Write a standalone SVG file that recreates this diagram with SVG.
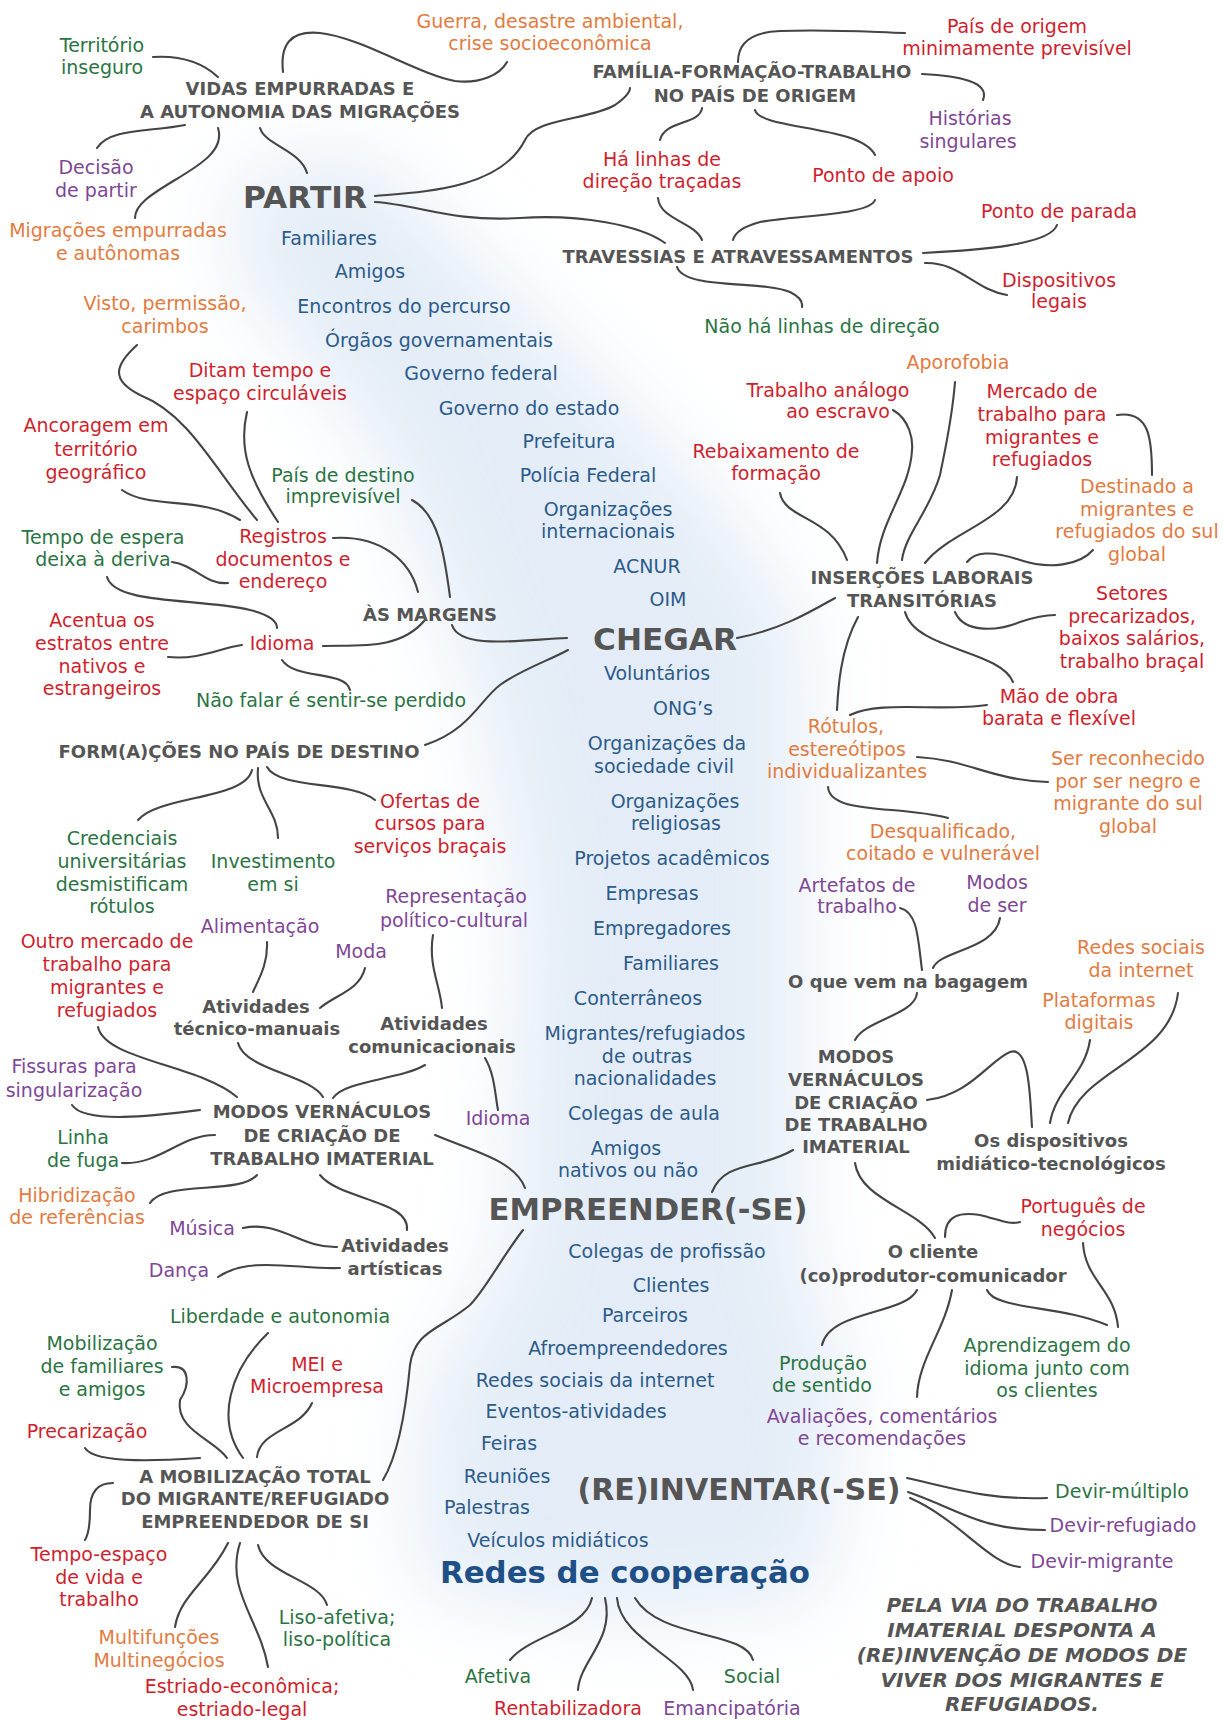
<svg xmlns="http://www.w3.org/2000/svg" width="1223" height="1720" viewBox="0 0 1223 1720">
<style>
text{font-family:"DejaVu Sans","Liberation Sans",sans-serif;text-anchor:middle}
.t{font-size:19px}
.h{font-size:18px;font-weight:bold;fill:#555}
.big{font-size:31px;font-weight:bold;fill:#555}
.b{fill:#2c5b8a}.g{fill:#2b7444}.r{fill:#cf1f2e}.o{fill:#e27b3f}.p{fill:#7f4796}
.rb{font-size:31px;font-weight:bold;fill:#1e4f86}
.it{font-size:20px;font-weight:bold;font-style:italic;fill:#555}
#links path{fill:none;stroke:#444;stroke-width:2.1;stroke-linecap:round}
</style>
<defs>
<filter id="blur" x="-50%" y="-50%" width="200%" height="200%"><feGaussianBlur stdDeviation="40"/></filter>
</defs>
<rect width="1223" height="1720" fill="#fff"/>
<path d="M230,180 L360,150 L520,300 L700,480 L800,620 L800,1250 L850,1400 L820,1600 L620,1620 L420,1590 L420,1400 L510,1250 L520,900 L480,700 L380,450 L240,280 Z" fill="#e4edf7" filter="url(#blur)"/>
<g id="links">
<path d="M153,57 C185,55 205,65 218,77"/>
<path d="M283,72 C280,45 290,30 320,33 C360,37 420,75 455,81 C480,84 500,75 507,62"/>
<path d="M185,125 C150,132 110,128 97,148"/>
<path d="M218,128 C225,150 200,165 175,180 C150,195 135,205 135,218"/>
<path d="M260,128 C265,145 300,150 307,173"/>
<path d="M375,196 C420,192 500,190 525,140 C535,118 590,120 615,105 C625,98 630,92 630,88"/>
<path d="M375,202 C420,205 450,222 520,218 C580,214 640,225 665,243"/>
<path d="M702,108 C700,125 665,120 660,140"/>
<path d="M755,110 C760,130 860,125 875,155"/>
<path d="M738,62 C738,40 755,32 780,31 C830,29 870,32 905,33"/>
<path d="M922,74 C960,76 990,82 983,100"/>
<path d="M658,198 C660,220 695,222 702,240"/>
<path d="M875,200 C870,215 800,215 760,222 C745,226 735,232 733,240"/>
<path d="M677,267 C685,290 760,280 790,292 C800,297 803,302 802,307"/>
<path d="M923,253 C980,250 1050,245 1057,225"/>
<path d="M925,263 C960,262 975,290 1007,295"/>
<path d="M137,345 C115,365 110,380 140,395 C190,415 215,470 257,520"/>
<path d="M247,412 C238,450 250,480 278,522"/>
<path d="M122,490 C150,510 200,495 240,520"/>
<path d="M333,538 C380,535 410,560 418,592"/>
<path d="M412,500 C440,515 445,560 450,597"/>
<path d="M172,562 C195,565 205,585 228,583"/>
<path d="M107,577 C115,605 200,598 250,610 C270,615 277,622 277,628"/>
<path d="M168,657 C200,660 220,648 242,645"/>
<path d="M323,646 C360,645 400,650 425,620"/>
<path d="M282,660 C295,680 345,670 350,690"/>
<path d="M452,625 C460,650 520,640 567,638"/>
<path d="M425,745 C470,730 480,700 500,685 C520,670 550,660 568,650"/>
<path d="M737,638 C780,630 810,612 835,598"/>
<path d="M252,770 C245,800 160,795 138,820"/>
<path d="M258,768 C255,800 278,810 278,838"/>
<path d="M267,767 C280,790 350,780 375,800"/>
<path d="M893,410 C910,420 913,440 912,450 C910,490 880,520 877,563"/>
<path d="M955,382 C952,420 945,450 940,475 C930,510 905,535 902,560"/>
<path d="M1017,477 C1015,520 950,530 925,563"/>
<path d="M780,493 C785,520 830,515 847,560"/>
<path d="M1117,415 C1150,410 1152,440 1152,475"/>
<path d="M967,562 C975,552 990,550 1020,560 C1050,570 1080,565 1093,550"/>
<path d="M955,612 C965,635 1000,630 1020,622 C1035,617 1045,615 1055,615"/>
<path d="M905,612 C915,650 1000,650 1013,682"/>
<path d="M858,617 C840,650 838,690 837,710"/>
<path d="M987,705 C940,712 880,700 850,715"/>
<path d="M917,757 C970,760 990,780 1048,782"/>
<path d="M828,787 C830,815 900,805 948,818"/>
<path d="M900,908 C918,912 918,940 922,970"/>
<path d="M1000,918 C995,950 940,950 933,968"/>
<path d="M917,993 C915,1015 865,1020 855,1040"/>
<path d="M927,1100 C970,1095 990,1060 1010,1052 C1030,1045 1030,1100 1032,1127"/>
<path d="M1090,1040 C1085,1075 1055,1090 1050,1123"/>
<path d="M1178,993 C1170,1060 1080,1070 1068,1123"/>
<path d="M793,1150 C760,1170 725,1160 712,1192"/>
<path d="M855,1163 C860,1200 920,1210 935,1238"/>
<path d="M945,1237 C945,1215 960,1212 980,1215 C1000,1220 1010,1225 1020,1222"/>
<path d="M1083,1243 C1085,1280 1115,1290 1118,1327"/>
<path d="M987,1290 C995,1310 1060,1305 1107,1325"/>
<path d="M917,1290 C905,1315 830,1310 822,1345"/>
<path d="M952,1290 C945,1330 918,1360 917,1397"/>
<path d="M907,1478 C960,1490 990,1500 1047,1498"/>
<path d="M908,1492 C960,1510 980,1530 1045,1530"/>
<path d="M910,1498 C960,1520 990,1565 1020,1567"/>
<path d="M267,942 C268,965 258,980 253,992"/>
<path d="M365,968 C360,990 335,995 320,1008"/>
<path d="M433,935 C428,965 440,985 442,1008"/>
<path d="M485,1058 C495,1075 495,1095 498,1110"/>
<path d="M425,1065 C400,1080 345,1080 333,1098"/>
<path d="M238,1043 C245,1070 310,1075 323,1097"/>
<path d="M98,1027 C105,1060 200,1065 237,1097"/>
<path d="M72,1105 C85,1125 160,1115 200,1110"/>
<path d="M122,1163 C160,1165 180,1135 215,1135"/>
<path d="M257,1175 C240,1195 165,1180 150,1203"/>
<path d="M320,1175 C340,1200 410,1200 407,1230"/>
<path d="M435,1135 C470,1150 515,1160 525,1188"/>
<path d="M243,1228 C280,1220 300,1248 337,1247"/>
<path d="M218,1277 C250,1255 300,1270 340,1268"/>
<path d="M523,1230 C500,1260 485,1290 470,1305 C440,1330 415,1330 410,1365 C405,1420 395,1460 383,1480"/>
<path d="M268,1333 C230,1370 215,1420 243,1458"/>
<path d="M312,1403 C300,1430 260,1430 257,1457"/>
<path d="M172,1367 C190,1365 190,1385 180,1400 C175,1430 215,1440 227,1458"/>
<path d="M85,1448 C95,1465 170,1460 200,1458"/>
<path d="M113,1483 C95,1483 90,1495 90,1510 C90,1525 88,1535 85,1540"/>
<path d="M228,1543 C210,1580 180,1595 175,1627"/>
<path d="M240,1543 C225,1590 260,1620 268,1667"/>
<path d="M258,1545 C265,1575 320,1580 327,1605"/>
<path d="M592,1598 C585,1630 530,1635 510,1660"/>
<path d="M605,1598 C615,1640 580,1660 578,1690"/>
<path d="M617,1598 C620,1640 690,1660 693,1690"/>
<path d="M635,1598 C660,1640 745,1630 753,1660"/>
</g>
<g id="n-territorio"><text class="t g"><tspan x="102" y="52">Território</tspan><tspan x="102" y="74">inseguro</tspan></text></g>
<g id="n-vidas"><text class="h"><tspan x="300" y="95">VIDAS EMPURRADAS E</tspan><tspan x="300" y="118">A AUTONOMIA DAS MIGRAÇÕES</tspan></text></g>
<g id="n-guerra"><text class="t o"><tspan x="550" y="28">Guerra,  desastre ambiental,</tspan><tspan x="550" y="50">crise socioeconômica</tspan></text></g>
<g id="n-familia"><text class="h"><tspan x="752" y="78">FAMÍLIA-FORMAÇÃO-TRABALHO</tspan><tspan x="755" y="102">NO PAÍS DE ORIGEM</tspan></text></g>
<g id="n-paisorigem"><text class="t r"><tspan x="1017" y="33">País de origem</tspan><tspan x="1017" y="55">minimamente previsível</tspan></text></g>
<g id="n-historias"><text class="t p"><tspan x="970" y="125">Histórias</tspan><tspan x="968" y="148">singulares</tspan></text></g>
<g id="n-decisao"><text class="t p"><tspan x="96" y="174">Decisão</tspan><tspan x="96" y="197">de partir</tspan></text></g>
<g id="n-partir"><text class="big" x="305" y="208" textLength="124" lengthAdjust="spacingAndGlyphs">PARTIR</text></g>
<g id="n-halinhas"><text class="t r"><tspan x="662" y="166">Há linhas de</tspan><tspan x="662" y="188">direção traçadas</tspan></text></g>
<g id="n-pontoapoio"><text class="t r" x="883" y="182">Ponto de apoio</text></g>
<g id="n-migracoes"><text class="t o"><tspan x="118" y="237">Migrações empurradas</tspan><tspan x="118" y="260">e autônomas</tspan></text></g>
<g id="n-pontoparada"><text class="t r" x="1059" y="218">Ponto de parada</text></g>
<g id="n-travessias"><text class="h" x="738" y="263">TRAVESSIAS E ATRAVESSAMENTOS</text></g>
<g id="n-dispositivos"><text class="t r"><tspan x="1059" y="287">Dispositivos</tspan><tspan x="1059" y="308">legais</tspan></text></g>
<g id="n-naohalinhas"><text class="t g" x="822" y="333">Não há linhas de direção</text></g>
<g id="n-l-familiares"><text class="t b" x="329" y="245">Familiares</text></g>
<g id="n-l-amigos"><text class="t b" x="370" y="278">Amigos</text></g>
<g id="n-l-encontros"><text class="t b" x="404" y="313">Encontros do percurso</text></g>
<g id="n-l-orgaos"><text class="t b" x="439" y="347">Órgãos governamentais</text></g>
<g id="n-l-govfed"><text class="t b" x="481" y="380">Governo federal</text></g>
<g id="n-l-govest"><text class="t b" x="529" y="415">Governo do estado</text></g>
<g id="n-l-prefeitura"><text class="t b" x="569" y="448">Prefeitura</text></g>
<g id="n-l-policia"><text class="t b" x="588" y="482">Polícia Federal</text></g>
<g id="n-l-orgint"><text class="t b"><tspan x="608" y="516">Organizações</tspan><tspan x="608" y="538">internacionais</tspan></text></g>
<g id="n-l-acnur"><text class="t b" x="647" y="573">ACNUR</text></g>
<g id="n-l-oim"><text class="t b" x="668" y="606">OIM</text></g>
<g id="n-visto"><text class="t o"><tspan x="165" y="310">Visto, permissão,</tspan><tspan x="165" y="333">carimbos</tspan></text></g>
<g id="n-ditam"><text class="t r"><tspan x="260" y="377">Ditam tempo e</tspan><tspan x="260" y="400">espaço circuláveis</tspan></text></g>
<g id="n-ancoragem"><text class="t r"><tspan x="96" y="432">Ancoragem em</tspan><tspan x="96" y="456">território</tspan><tspan x="96" y="479">geográfico</tspan></text></g>
<g id="n-aporofobia"><text class="t o" x="958" y="369">Aporofobia</text></g>
<g id="n-trabalhoanalogo"><text class="t r"><tspan x="828" y="397">Trabalho análogo</tspan><tspan x="838" y="418">ao escravo</tspan></text></g>
<g id="n-mercado"><text class="t r"><tspan x="1042" y="398">Mercado de</tspan><tspan x="1042" y="421">trabalho para</tspan><tspan x="1042" y="444">migrantes e</tspan><tspan x="1042" y="466">refugiados</tspan></text></g>
<g id="n-rebaixamento"><text class="t r"><tspan x="776" y="458">Rebaixamento de</tspan><tspan x="776" y="480">formação</tspan></text></g>
<g id="n-paisdestino"><text class="t g"><tspan x="343" y="482">País de destino</tspan><tspan x="343" y="503">imprevisível</tspan></text></g>
<g id="n-destinado"><text class="t o"><tspan x="1137" y="493">Destinado a</tspan><tspan x="1137" y="516">migrantes e</tspan><tspan x="1137" y="538">refugiados do sul</tspan><tspan x="1137" y="561">global</tspan></text></g>
<g id="n-tempoespera"><text class="t g"><tspan x="103" y="544">Tempo de espera</tspan><tspan x="103" y="566">deixa à deriva</tspan></text></g>
<g id="n-registros"><text class="t r"><tspan x="283" y="543">Registros</tspan><tspan x="283" y="566">documentos e</tspan><tspan x="283" y="588">endereço</tspan></text></g>
<g id="n-insercoes"><text class="h"><tspan x="922" y="584">INSERÇÕES LABORAIS</tspan><tspan x="922" y="607">TRANSITÓRIAS</tspan></text></g>
<g id="n-setores"><text class="t r"><tspan x="1132" y="600">Setores</tspan><tspan x="1132" y="623">precarizados,</tspan><tspan x="1132" y="645">baixos salários,</tspan><tspan x="1132" y="668">trabalho braçal</tspan></text></g>
<g id="n-margens"><text class="h" x="430" y="621">ÀS MARGENS</text></g>
<g id="n-acentua"><text class="t r"><tspan x="102" y="627">Acentua os</tspan><tspan x="102" y="650">estratos entre</tspan><tspan x="102" y="673">nativos e</tspan><tspan x="102" y="695">estrangeiros</tspan></text></g>
<g id="n-idioma1"><text class="t r" x="282" y="650">Idioma</text></g>
<g id="n-chegar"><text class="big" x="665" y="650" textLength="144" lengthAdjust="spacingAndGlyphs">CHEGAR</text></g>
<g id="n-naofalar"><text class="t g" x="331" y="707">Não falar é sentir-se perdido</text></g>
<g id="n-maodeobra"><text class="t r"><tspan x="1059" y="703">Mão de obra</tspan><tspan x="1059" y="725">barata e flexível</tspan></text></g>
<g id="n-rotulos"><text class="t o"><tspan x="846" y="733">Rótulos,</tspan><tspan x="847" y="756">estereótipos</tspan><tspan x="847" y="778">individualizantes</tspan></text></g>
<g id="n-form"><text class="h" x="239" y="758">FORM(A)ÇÕES NO PAÍS DE DESTINO</text></g>
<g id="n-serreconhecido"><text class="t o"><tspan x="1128" y="765">Ser reconhecido</tspan><tspan x="1128" y="788">por ser negro e</tspan><tspan x="1128" y="810">migrante do sul</tspan><tspan x="1128" y="833">global</tspan></text></g>
<g id="n-ofertas"><text class="t r"><tspan x="430" y="808">Ofertas de</tspan><tspan x="430" y="830">cursos para</tspan><tspan x="430" y="853">serviços braçais</tspan></text></g>
<g id="n-desqualificado"><text class="t o"><tspan x="943" y="838">Desqualificado,</tspan><tspan x="943" y="860">coitado e vulnerável</tspan></text></g>
<g id="n-credenciais"><text class="t g"><tspan x="122" y="845">Credenciais</tspan><tspan x="122" y="868">universitárias</tspan><tspan x="122" y="891">desmistificam</tspan><tspan x="122" y="913">rótulos</tspan></text></g>
<g id="n-investimento"><text class="t g"><tspan x="273" y="868">Investimento</tspan><tspan x="273" y="891">em si</tspan></text></g>
<g id="n-c-voluntarios"><text class="t b" x="657" y="680">Voluntários</text></g>
<g id="n-c-ongs"><text class="t b" x="683" y="715">ONG’s</text></g>
<g id="n-c-orgsoc"><text class="t b"><tspan x="667" y="750">Organizações da</tspan><tspan x="664" y="773">sociedade civil</tspan></text></g>
<g id="n-c-orgrel"><text class="t b"><tspan x="675" y="808">Organizações</tspan><tspan x="676" y="830">religiosas</tspan></text></g>
<g id="n-c-projetos"><text class="t b" x="672" y="865">Projetos acadêmicos</text></g>
<g id="n-c-empresas"><text class="t b" x="652" y="900">Empresas</text></g>
<g id="n-c-empregadores"><text class="t b" x="662" y="935">Empregadores</text></g>
<g id="n-c-familiares"><text class="t b" x="671" y="970">Familiares</text></g>
<g id="n-c-conterraneos"><text class="t b" x="638" y="1005">Conterrâneos</text></g>
<g id="n-c-migrantes"><text class="t b"><tspan x="645" y="1040">Migrantes/refugiados</tspan><tspan x="647" y="1063">de outras</tspan><tspan x="645" y="1085">nacionalidades</tspan></text></g>
<g id="n-c-colegasaula"><text class="t b" x="644" y="1120">Colegas de aula</text></g>
<g id="n-c-amigos"><text class="t b"><tspan x="626" y="1155">Amigos</tspan><tspan x="628" y="1177">nativos ou não</tspan></text></g>
<g id="n-artefatos"><text class="t p"><tspan x="857" y="892">Artefatos de</tspan><tspan x="857" y="913">trabalho</tspan></text></g>
<g id="n-modosdeser"><text class="t p"><tspan x="997" y="889">Modos</tspan><tspan x="997" y="912">de ser</tspan></text></g>
<g id="n-representacao"><text class="t p"><tspan x="456" y="903">Representação</tspan><tspan x="454" y="927">político-cultural</tspan></text></g>
<g id="n-alimentacao"><text class="t p" x="260" y="933">Alimentação</text></g>
<g id="n-outromercado"><text class="t r"><tspan x="107" y="948">Outro mercado de</tspan><tspan x="107" y="971">trabalho  para</tspan><tspan x="107" y="994">migrantes e</tspan><tspan x="107" y="1017">refugiados</tspan></text></g>
<g id="n-redessociais1"><text class="t o"><tspan x="1141" y="954">Redes sociais</tspan><tspan x="1141" y="977">da internet</tspan></text></g>
<g id="n-moda"><text class="t p" x="361" y="958">Moda</text></g>
<g id="n-bagagem"><text class="h" x="908" y="988">O que vem na bagagem</text></g>
<g id="n-plataformas"><text class="t o"><tspan x="1099" y="1007">Plataformas</tspan><tspan x="1099" y="1029">digitais</tspan></text></g>
<g id="n-ativtecnico"><text class="h"><tspan x="256" y="1013">Atividades</tspan><tspan x="257" y="1035">técnico-manuais</tspan></text></g>
<g id="n-ativcom"><text class="h"><tspan x="434" y="1030">Atividades</tspan><tspan x="432" y="1053">comunicacionais</tspan></text></g>
<g id="n-modosR"><text class="h"><tspan x="856" y="1063">MODOS</tspan><tspan x="856" y="1086">VERNÁCULOS</tspan><tspan x="856" y="1109">DE CRIAÇÃO</tspan><tspan x="856" y="1131">DE TRABALHO</tspan><tspan x="856" y="1153">IMATERIAL</tspan></text></g>
<g id="n-fissuras"><text class="t p"><tspan x="74" y="1073">Fissuras para</tspan><tspan x="74" y="1097">singularização</tspan></text></g>
<g id="n-modosL"><text class="h"><tspan x="322" y="1118">MODOS VERNÁCULOS</tspan><tspan x="322" y="1142">DE CRIAÇÃO DE</tspan><tspan x="322" y="1165">TRABALHO IMATERIAL</tspan></text></g>
<g id="n-idioma2"><text class="t p" x="498" y="1125">Idioma</text></g>
<g id="n-linha"><text class="t g"><tspan x="83" y="1144">Linha</tspan><tspan x="83" y="1167">de fuga</tspan></text></g>
<g id="n-dispmid"><text class="h"><tspan x="1051" y="1147">Os dispositivos</tspan><tspan x="1051" y="1170">midiático-tecnológicos</tspan></text></g>
<g id="n-hibrid"><text class="t o"><tspan x="77" y="1202">Hibridização</tspan><tspan x="77" y="1224">de referências</tspan></text></g>
<g id="n-portugues"><text class="t r"><tspan x="1083" y="1213">Português de</tspan><tspan x="1083" y="1236">negócios</tspan></text></g>
<g id="n-empreender"><text class="big" x="648" y="1220" textLength="319" lengthAdjust="spacingAndGlyphs">EMPREENDER(-SE)</text></g>
<g id="n-musica"><text class="t p" x="202" y="1235">Música</text></g>
<g id="n-ativart"><text class="h"><tspan x="395" y="1252">Atividades</tspan><tspan x="395" y="1275">artísticas</tspan></text></g>
<g id="n-cliente"><text class="h"><tspan x="933" y="1258">O cliente</tspan><tspan x="933" y="1282">(co)produtor-comunicador</tspan></text></g>
<g id="n-e-colegasprof"><text class="t b" x="667" y="1258">Colegas de profissão</text></g>
<g id="n-e-clientes"><text class="t b" x="671" y="1292">Clientes</text></g>
<g id="n-e-parceiros"><text class="t b" x="645" y="1322">Parceiros</text></g>
<g id="n-e-afro"><text class="t b" x="628" y="1355">Afroempreendedores</text></g>
<g id="n-e-redes"><text class="t b" x="595" y="1387">Redes sociais da internet</text></g>
<g id="n-e-eventos"><text class="t b" x="576" y="1418">Eventos-atividades</text></g>
<g id="n-e-feiras"><text class="t b" x="509" y="1450">Feiras</text></g>
<g id="n-e-reunioes"><text class="t b" x="507" y="1483">Reuniões</text></g>
<g id="n-e-palestras"><text class="t b" x="487" y="1514">Palestras</text></g>
<g id="n-e-veiculos"><text class="t b" x="558" y="1547">Veículos midiáticos</text></g>
<g id="n-danca"><text class="t p" x="179" y="1277">Dança</text></g>
<g id="n-liberdade"><text class="t g" x="280" y="1323">Liberdade e autonomia</text></g>
<g id="n-mobilizacaofam"><text class="t g"><tspan x="102" y="1350">Mobilização</tspan><tspan x="102" y="1373">de familiares</tspan><tspan x="102" y="1396">e amigos</tspan></text></g>
<g id="n-aprendizagem"><text class="t g"><tspan x="1047" y="1352">Aprendizagem do</tspan><tspan x="1047" y="1375">idioma junto com</tspan><tspan x="1047" y="1397">os clientes</tspan></text></g>
<g id="n-producao"><text class="t g"><tspan x="823" y="1370">Produção</tspan><tspan x="822" y="1392">de sentido</tspan></text></g>
<g id="n-mei"><text class="t r"><tspan x="317" y="1371">MEI e</tspan><tspan x="317" y="1393">Microempresa</tspan></text></g>
<g id="n-avaliacoes"><text class="t p"><tspan x="882" y="1423">Avaliações, comentários</tspan><tspan x="882" y="1445">e recomendações</tspan></text></g>
<g id="n-precarizacao"><text class="t r" x="87" y="1438">Precarização</text></g>
<g id="n-mobtotal"><text class="h"><tspan x="255" y="1483">A MOBILIZAÇÃO TOTAL</tspan><tspan x="255" y="1505">DO MIGRANTE/REFUGIADO</tspan><tspan x="255" y="1528">EMPREENDEDOR DE SI</tspan></text></g>
<g id="n-reinventar"><text class="big" x="739" y="1500" textLength="323" lengthAdjust="spacingAndGlyphs">(RE)INVENTAR(-SE)</text></g>
<g id="n-devirmult"><text class="t g" x="1122" y="1498">Devir-múltiplo</text></g>
<g id="n-devirref"><text class="t p" x="1123" y="1532">Devir-refugiado</text></g>
<g id="n-devirmig"><text class="t p" x="1102" y="1568">Devir-migrante</text></g>
<g id="n-tempoespaco"><text class="t r"><tspan x="99" y="1561">Tempo-espaço</tspan><tspan x="99" y="1584">de vida e</tspan><tspan x="99" y="1606">trabalho</tspan></text></g>
<g id="n-redes"><text class="rb" x="625" y="1583" textLength="370" lengthAdjust="spacingAndGlyphs">Redes de cooperação</text></g>
<g id="n-final"><text class="it"><tspan x="1022" y="1612">PELA VIA DO TRABALHO</tspan><tspan x="1022" y="1637">IMATERIAL DESPONTA A</tspan><tspan x="1022" y="1662">(RE)INVENÇÃO DE MODOS DE</tspan><tspan x="1022" y="1687">VIVER DOS MIGRANTES E</tspan><tspan x="1022" y="1711">REFUGIADOS.</tspan></text></g>
<g id="n-liso"><text class="t g"><tspan x="337" y="1624">Liso-afetiva;</tspan><tspan x="337" y="1646">liso-política</tspan></text></g>
<g id="n-multi"><text class="t o"><tspan x="159" y="1644">Multifunções</tspan><tspan x="159" y="1667">Multinegócios</tspan></text></g>
<g id="n-afetiva"><text class="t g" x="498" y="1683">Afetiva</text></g>
<g id="n-social"><text class="t g" x="752" y="1683">Social</text></g>
<g id="n-estriado"><text class="t r"><tspan x="242" y="1693">Estriado-econômica;</tspan><tspan x="242" y="1716">estriado-legal</tspan></text></g>
<g id="n-rentab"><text class="t r" x="568" y="1715">Rentabilizadora</text></g>
<g id="n-emancip"><text class="t p" x="732" y="1715">Emancipatória</text></g>
</svg>
